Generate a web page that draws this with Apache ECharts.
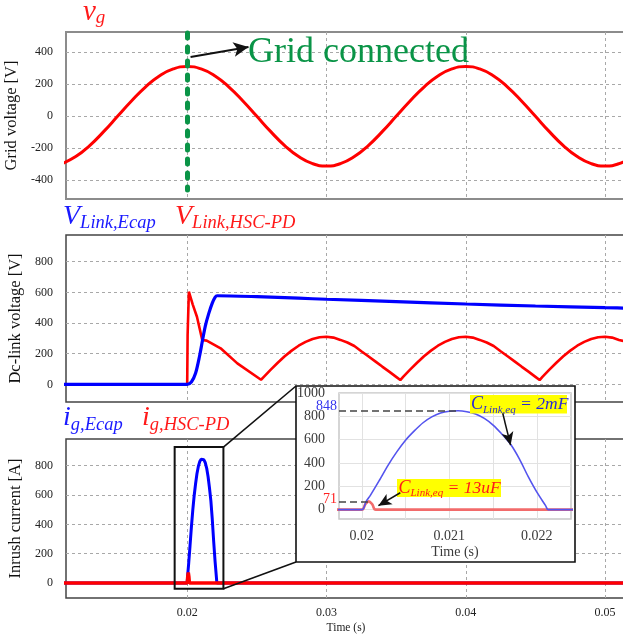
<!DOCTYPE html>
<html>
<head>
<meta charset="utf-8">
<script src="https://cdn.jsdelivr.net/npm/echarts@6/dist/echarts.min.js"></script>
<style>
html, body { margin: 0; padding: 0; background: #fff; }
#main { width: 623px; height: 637px; }
</style>
</head>
<body>
<div id="main"></div>
<script>
const serif = "'Liberation Serif', 'Times New Roman', serif";

// axis ticks
const timeTicks = [0.02, 0.03, 0.04, 0.05];
const insetTimeTicks = [0.02, 0.0205, 0.021, 0.0215, 0.022];
const insetTimeLabels = [0.02, 0.021, 0.022];
const gridVoltTicks = [-400, -200, 0, 200, 400];
const linkVoltTicks = [0, 200, 400, 600, 800];
const currentTicks = [0, 200, 400, 600, 800];
const insetCurrentTicks = [0, 200, 400, 600, 800, 1000];

// grid voltage v_g
const vgTime = [0.011, 0.012, 0.013, 0.014, 0.015, 0.016, 0.017, 0.018, 0.019, 0.020,
  0.021, 0.022, 0.023, 0.024, 0.025, 0.026, 0.027, 0.028, 0.029, 0.030,
  0.031, 0.032, 0.033, 0.034, 0.035, 0.036, 0.037, 0.038, 0.039, 0.040,
  0.041, 0.042, 0.043, 0.044, 0.045, 0.046, 0.047, 0.048, 0.049, 0.050,
  0.051, 0.052];
const vgValue = [-296, -252, -183, -96, 0, 96, 183, 252, 296, 311,
  296, 252, 183, 96, 0, -96, -183, -252, -296, -311,
  -296, -252, -183, -96, 0, 96, 183, 252, 296, 311,
  296, 252, 183, 96, 0, -96, -183, -252, -296, -311,
  -296, -252];

// dc-link voltage, HSC-PD
const linkHscTime = [0.011, 0.0200, 0.02003, 0.02012, 0.0204, 0.0207, 0.02108, 0.0212, 0.0214, 0.0224, 0.0236, 0.0253,
  0.0255, 0.0260, 0.0265, 0.0270, 0.0275, 0.0280, 0.0285, 0.0290, 0.0295, 0.0300,
  0.0305, 0.0310, 0.0315, 0.0320, 0.0325, 0.0330, 0.0335, 0.0340, 0.0345, 0.0350, 0.0353,
  0.0355, 0.0360, 0.0365, 0.0370, 0.0375, 0.0380, 0.0385, 0.0390, 0.0395, 0.0400,
  0.0405, 0.0410, 0.0415, 0.0420, 0.0425, 0.0430, 0.0435, 0.0440, 0.0445, 0.0450, 0.0453,
  0.0455, 0.0460, 0.0465, 0.0470, 0.0475, 0.0480, 0.0485, 0.0490, 0.0495, 0.0500,
  0.0505, 0.0510, 0.0515, 0.0520];
const linkHscValue = [0, 0, 320, 604, 520, 441, 289, 295, 285, 235, 137, 30,
  49, 96, 141, 183, 220, 252, 277, 296, 307, 311,
  305, 290, 273, 250, 216, 183, 150, 116, 83, 49, 28,
  49, 96, 141, 183, 220, 252, 277, 296, 307, 311,
  305, 290, 273, 250, 216, 183, 150, 116, 83, 49, 28,
  49, 96, 141, 183, 220, 252, 277, 296, 307, 311,
  305, 290, 278, 255];

// dc-link voltage, Ecap
const linkEcapTime = [0.011, 0.0200, 0.0203, 0.0206, 0.0209, 0.02108, 0.0213, 0.02155, 0.0218, 0.0220, 0.02215,
  0.025, 0.028, 0.030, 0.035, 0.040, 0.045, 0.050, 0.052];
const linkEcapValue = [0, 0, 15, 72, 190, 278, 380, 463, 530, 568, 578,
  572, 562, 555, 540, 524, 511, 500, 496];

// inrush current, Ecap
const igEcapTime = [0.011, 0.0200, 0.02005, 0.0201, 0.0202, 0.0203, 0.0204, 0.0205, 0.0206, 0.0207, 0.0208, 0.0209,
  0.0210, 0.0211, 0.0212, 0.0213, 0.0214, 0.0215, 0.0216, 0.0217, 0.0218, 0.0219, 0.0220, 0.0221, 0.02213, 0.052];
const igEcapValue = [0, 0, 71, 125, 250, 380, 495, 595, 675, 745, 795, 828,
  844, 848, 840, 820, 782, 725, 648, 560, 435, 285, 150, 35, 0, 0];

// inrush current, HSC-PD
const igHscTime = [0.011, 0.0200, 0.02004, 0.02008, 0.02012, 0.02016, 0.052];
const igHscValue = [0, 0, 45, 71, 45, 0, 0];

// zoomed region marked in the current panel
const zoomBoxTime = [0.0191, 0.0226];
const zoomBoxCurrent = [-39, 927];

const pairs = (t, v) => t.map((x, i) => [x, v[i]]);
const plain = v => String(v);

const red = '#ff0000';
const blue = '#0000ff';
const green = '#0a9447';

const chart = echarts.init(document.getElementById('main'), null, { renderer: 'canvas' });

function mainX(i) {
  return {
    gridIndex: i, type: 'value', min: 0.0113, max: 0.0515,
    axisLine: { show: false },
    axisTick: { show: false, customValues: timeTicks },
    axisLabel: {
      show: i === 2, customValues: timeTicks, margin: 9, formatter: plain,
      fontFamily: serif, fontSize: 12, color: '#222'
    },
    splitLine: { show: true, lineStyle: { color: '#a8a8a8', type: [3, 3], width: 1 } },
    name: i === 2 ? 'Time (s)' : '', nameLocation: 'middle', nameGap: 24,
    nameTextStyle: { fontFamily: serif, fontSize: 11.5, color: '#222' }
  };
}

function mainY(i, min, max, ticks, name) {
  return {
    gridIndex: i, type: 'value', min: min, max: max,
    axisLine: { show: false },
    axisTick: { show: false, customValues: ticks },
    axisLabel: { customValues: ticks, margin: 13, formatter: plain, fontFamily: serif, fontSize: 12, color: '#222' },
    splitLine: { show: true, lineStyle: { color: '#a8a8a8', type: [3, 3], width: 1 } },
    name: name, nameLocation: 'middle', nameGap: 40,
    nameTextStyle: { fontFamily: serif, fontSize: 16.5, color: '#111' }
  };
}

const option = {
  animation: false,
  backgroundColor: '#ffffff',
  grid: [
    { left: 66, top: 32, width: 560, height: 167, show: true, borderColor: '#8c8c8c', borderWidth: 2,
      outerBoundsMode: 'none' },
    { left: 66, top: 235, width: 560, height: 167, show: true, borderColor: '#444', borderWidth: 1.5,
      outerBoundsMode: 'none' },
    { left: 66, top: 439, width: 560, height: 159, show: true, borderColor: '#444', borderWidth: 1.5,
      outerBoundsMode: 'none' },
    { left: 339, top: 393, width: 232, height: 126, show: true, borderColor: '#c8c8c8', borderWidth: 1.5,
      backgroundColor: '#fff', z: 11, outerBoundsMode: 'none' }
  ],
  xAxis: [
    mainX(0), mainX(1), mainX(2),
    {
      gridIndex: 3, type: 'value', min: 0.01974, max: 0.02239, z: 12,
      axisLine: { show: false },
      axisTick: { show: false, customValues: insetTimeTicks },
      axisLabel: { customValues: insetTimeLabels, margin: 10, formatter: plain,
                   fontFamily: serif, fontSize: 14, color: '#3a3a3a' },
      splitLine: { show: true, lineStyle: { color: '#e2e2e2', width: 1 } },
      name: 'Time (s)', nameLocation: 'middle', nameGap: 26,
      nameTextStyle: { fontFamily: serif, fontSize: 14, color: '#3a3a3a' }
    }
  ],
  yAxis: [
    mainY(0, -517, 527, gridVoltTicks, 'Grid voltage [V]'),
    mainY(1, -115, 974, linkVoltTicks, 'Dc-link voltage [V]'),
    mainY(2, -102, 982, currentTicks, 'Inrush current [A]'),
    {
      gridIndex: 3, type: 'value', min: -80, max: 1000, z: 12,
      axisLine: { show: false },
      axisTick: { show: false, customValues: insetCurrentTicks },
      axisLabel: { customValues: insetCurrentTicks, margin: 14, formatter: plain,
                   fontFamily: serif, fontSize: 14, color: '#3a3a3a' },
      splitLine: { show: true, lineStyle: { color: '#e2e2e2', width: 1 } }
    }
  ],
  series: [
    {
      name: 'vg', type: 'line', xAxisIndex: 0, yAxisIndex: 0,
      data: pairs(vgTime, vgValue), smooth: true, symbol: 'none',
      lineStyle: { color: red, width: 3 }, z: 3,
      markLine: {
        silent: true, z: 6, symbol: ['none', 'none'], label: { show: false },
        data: [
          [{ coord: [0.02, 520], lineStyle: { color: green, width: 5, type: [5, 9], cap: 'round' } },
           { coord: [0.02, -460] }],
          [{ coord: [0.02024, 371], lineStyle: { color: '#111', width: 2, type: 'solid' } },
           { coord: [0.0244, 433], symbol: 'arrow', symbolSize: [11, 15] }]
        ]
      }
    },
    {
      name: 'VLink,HSC-PD', type: 'line', xAxisIndex: 1, yAxisIndex: 1,
      data: pairs(linkHscTime, linkHscValue), symbol: 'none',
      lineStyle: { color: red, width: 2.6 }, z: 3
    },
    {
      name: 'VLink,Ecap', type: 'line', xAxisIndex: 1, yAxisIndex: 1,
      data: pairs(linkEcapTime, linkEcapValue), symbol: 'none', smooth: 0.3,
      lineStyle: { color: blue, width: 3.2 }, z: 4
    },
    {
      name: 'ig,Ecap', type: 'line', xAxisIndex: 2, yAxisIndex: 2,
      data: pairs(igEcapTime, igEcapValue), symbol: 'none',
      lineStyle: { color: blue, width: 3 }, z: 3
    },
    {
      name: 'ig,HSC-PD', type: 'line', xAxisIndex: 2, yAxisIndex: 2,
      data: pairs(igHscTime, igHscValue), symbol: 'none',
      lineStyle: { color: red, width: 3.5 }, z: 4
    },
    {
      name: 'inset HSC-PD', type: 'line', xAxisIndex: 3, yAxisIndex: 3,
      data: pairs(igHscTime, igHscValue), symbol: 'none', smooth: 0.4,
      lineStyle: { color: '#f26b6b', width: 2.6 }, z: 13
    },
    {
      name: 'inset Ecap', type: 'line', xAxisIndex: 3, yAxisIndex: 3,
      data: pairs(igEcapTime, igEcapValue), symbol: 'none', smooth: 0.3,
      lineStyle: { color: '#5454ee', width: 1.6 }, z: 14,
      markLine: {
        silent: true, z: 17, symbol: ['none', 'none'], label: { show: false },
        data: [
          [{ coord: [0.01974, 848], lineStyle: { color: '#444', width: 1.5, type: [7, 4] },
             label: { show: true, position: 'start', distance: 2, formatter: '848',
                      verticalAlign: 'bottom', lineHeight: 8,
                      fontFamily: serif, fontSize: 14, color: '#3333ee' } },
           { coord: [0.0211, 848] }],
          [{ coord: [0.01974, 71], lineStyle: { color: '#444', width: 1.5, type: [7, 4] },
             label: { show: true, position: 'start', distance: 2, formatter: '71',
                      verticalAlign: 'bottom', lineHeight: 4,
                      fontFamily: serif, fontSize: 14, color: '#ff2020' } },
           { coord: [0.02008, 71] }],
          [{ coord: [0.02161, 826], lineStyle: { color: '#111', width: 1.5, type: 'solid' } },
           { coord: [0.0217, 553], symbol: 'arrow', symbolSize: [9, 13] }],
          [{ coord: [0.02044, 145], lineStyle: { color: '#111', width: 1.5, type: 'solid' } },
           { coord: [0.02019, 34], symbol: 'arrow', symbolSize: [9, 13] }]
        ]
      }
    }
  ]
};

chart.setOption(option);

// labels with subscripts, laid out piece by piece
const measureCtx = document.createElement('canvas').getContext('2d');
function subLabel(x, base, color, parts, z) {
  const els = [];
  let cx = x;
  parts.forEach(p => {
    const style = p.upright ? 'normal' : 'italic';
    measureCtx.font = style + ' ' + p.size + 'px ' + serif;
    els.push({
      type: 'text', z: z, x: cx, y: base + (p.dy || 0) - 0.3 * p.size, silent: true,
      style: {
        text: p.text, fill: color, fontFamily: serif, fontSize: p.size, fontStyle: style,
        align: 'left', verticalAlign: 'middle'
      }
    });
    cx += measureCtx.measureText(p.text).width;
  });
  return els;
}

const tl = chart.convertToPixel({ gridIndex: 2 }, [zoomBoxTime[0], zoomBoxCurrent[1]]);
const br = chart.convertToPixel({ gridIndex: 2 }, [zoomBoxTime[1], zoomBoxCurrent[0]]);
const insetBox = { x: 296, y: 386, w: 279, h: 176 };

let graphic = [
  { type: 'rect', z: 5, silent: true,
    shape: { x: tl[0], y: tl[1], width: br[0] - tl[0], height: br[1] - tl[1] },
    style: { fill: 'none', stroke: '#111', lineWidth: 2 } },
  { type: 'line', z: 5, silent: true,
    shape: { x1: br[0], y1: tl[1], x2: insetBox.x, y2: insetBox.y },
    style: { stroke: '#111', lineWidth: 1.6 } },
  { type: 'line', z: 5, silent: true,
    shape: { x1: br[0], y1: br[1], x2: insetBox.x, y2: insetBox.y + insetBox.h },
    style: { stroke: '#111', lineWidth: 1.6 } },
  { type: 'rect', z: 10, silent: true,
    shape: { x: insetBox.x, y: insetBox.y, width: insetBox.w, height: insetBox.h },
    style: { fill: '#fff', stroke: '#111', lineWidth: 1.6 } },
  { type: 'text', z: 20, silent: true, x: 248, y: 63 - 0.3 * 36,
    style: { text: 'Grid connected', fill: green, fontFamily: serif, fontSize: 36,
             align: 'left', verticalAlign: 'middle' } },
  { type: 'rect', z: 15, silent: true, shape: { x: 470, y: 395, width: 97, height: 18.5 },
    style: { fill: '#ffff00' } },
  { type: 'rect', z: 15, silent: true, shape: { x: 397, y: 479, width: 104, height: 18 },
    style: { fill: '#ffff00' } }
];

graphic = graphic.concat(
  subLabel(83, 21, '#ff1a1a', [{ text: 'v', size: 29 }, { text: 'g', size: 19, dy: 3 }], 20),
  subLabel(63, 225, '#1a1aff', [{ text: 'V', size: 28 }, { text: 'Link,Ecap', size: 18.5, dy: 4 }], 20),
  subLabel(175, 225, '#ff1a1a', [{ text: 'V', size: 28 }, { text: 'Link,HSC-PD', size: 18.5, dy: 4 }], 20),
  subLabel(63, 426, '#1a1aff', [{ text: 'i', size: 28 }, { text: 'g,Ecap', size: 18.5, dy: 5 }], 20),
  subLabel(142, 426, '#ff1a1a', [{ text: 'i', size: 28 }, { text: 'g,HSC-PD', size: 18.5, dy: 5 }], 20),
  subLabel(471, 410, '#2a2ad8', [{ text: 'C', size: 18 }, { text: 'Link,eq', size: 11, dy: 3 },
    { text: ' = 2mF', size: 17.5 }], 16),
  subLabel(398.5, 493.5, '#ff1a1a', [{ text: 'C', size: 18 }, { text: 'Link,eq', size: 11, dy: 3 },
    { text: ' = 13uF', size: 17.5 }], 16)
);

chart.setOption({ graphic: graphic });
</script>
</body>
</html>
